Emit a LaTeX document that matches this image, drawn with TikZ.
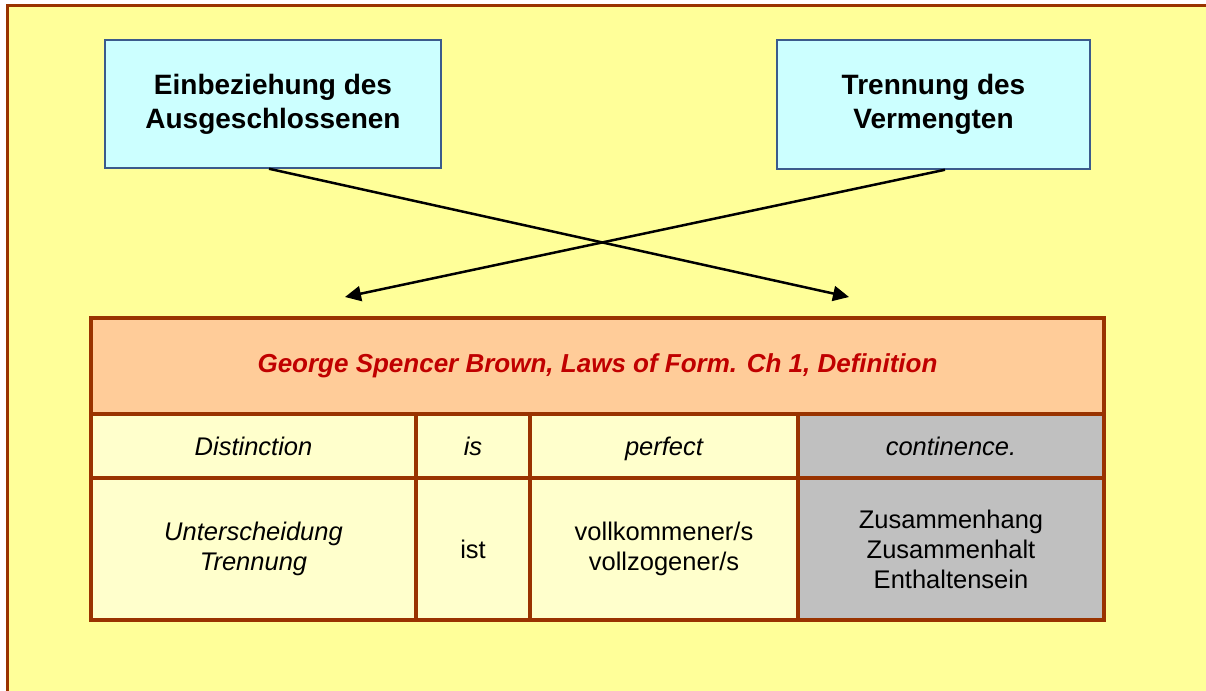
\documentclass[tikz,border=0pt]{standalone}
\usepackage{fontspec}
\setmainfont{Liberation Sans}
\usetikzlibrary{arrows.meta,calc}

\definecolor{pageyellow}{HTML}{FFFF99}
\definecolor{framebrown}{HTML}{993300}
\definecolor{boxcyan}{HTML}{CCFFFF}
\definecolor{boxedge}{HTML}{3B5B8C}
\definecolor{headpeach}{HTML}{FFCC99}
\definecolor{headred}{HTML}{C00000}
\definecolor{cellcream}{HTML}{FFFFCC}
\definecolor{cellgray}{HTML}{C0C0C0}

\tikzset{
  conceptbox/.style={draw=boxedge, line width=1.5pt, fill=boxcyan,
    inner sep=0pt, align=center,
    font=\bfseries\fontsize{28}{34}\selectfont},
  cell/.style={draw=framebrown, line width=3.5pt, inner sep=0pt,
    align=center, fill=cellcream,
    font=\fontsize{25.5}{30}\selectfont},
  oneline/.style={text height=21pt, text depth=3pt},
  headcell/.style={cell, text height=19pt, text depth=5.5pt, fill=headpeach, text=headred,
    font=\bfseries\itshape\fontsize{26}{30}\selectfont},
  graycell/.style={cell, fill=cellgray},
  link/.style={line width=2.5pt, -{Triangle[length=16pt,width=15pt]}},
}

\begin{document}
\begin{tikzpicture}[x=1pt,y=-1pt]
  \useasboundingbox (0,0) rectangle (1206,690);
  \fill[white] (0,0) rectangle (1206,690);
  % page area with its frame (right and bottom run off the page)
  \begin{scope}
    \clip (0,0) rectangle (1206,690);
    \draw[framebrown, line width=2.2pt, fill=pageyellow] (7.5,5.5) rectangle (1215,700);
  \end{scope}

  % the two concepts
  \node[conceptbox, minimum width=336, minimum height=128] (lbox) at (273,104)
    {Einbeziehung des\\Ausgeschlossenen};
  \node[conceptbox, minimum width=313, minimum height=129] (rbox) at (933.5,104.5)
    {Trennung des\\Vermengten};

  % arrow targets above the table
  \coordinate (ltarget) at (345,297);
  \coordinate (rtarget) at (849,297);

  \draw[link] ($(lbox.south)+(-4,0)$) -- (rtarget);
  \draw[link] ($(rbox.south)+(11.5,0)$) -- (ltarget);

  % the definition table
  \node[headcell, minimum width=1013, minimum height=96] (head) at (597.5,366)
    {George Spencer Brown, Laws of Form. Ch 1, Definition};

  \node[cell, oneline, minimum width=325, minimum height=64] (en1) at (253.5,446) {\itshape Distinction};
  \node[cell, oneline, minimum width=114, minimum height=64] (en2) at (473,446) {\itshape is};
  \node[cell, oneline, minimum width=268, minimum height=64] (en3) at (664,446) {\itshape perfect};
  \node[graycell, oneline, minimum width=306, minimum height=64] (en4) at (951,446) {\itshape continence.};

  \node[cell, minimum width=325, minimum height=142] (de1) at (253.5,549)
    {\itshape Unterscheidung\\\itshape Trennung};
  \node[cell, oneline, minimum width=114, minimum height=142] (de2) at (473,549) {ist};
  \node[cell, minimum width=268, minimum height=142] (de3) at (664,549)
    {vollkommener/s\\vollzogener/s};
  \node[graycell, minimum width=306, minimum height=142] (de4) at (951,549)
    {Zusammenhang\\Zusammenhalt\\Enthaltensein};
\end{tikzpicture}
\end{document}
